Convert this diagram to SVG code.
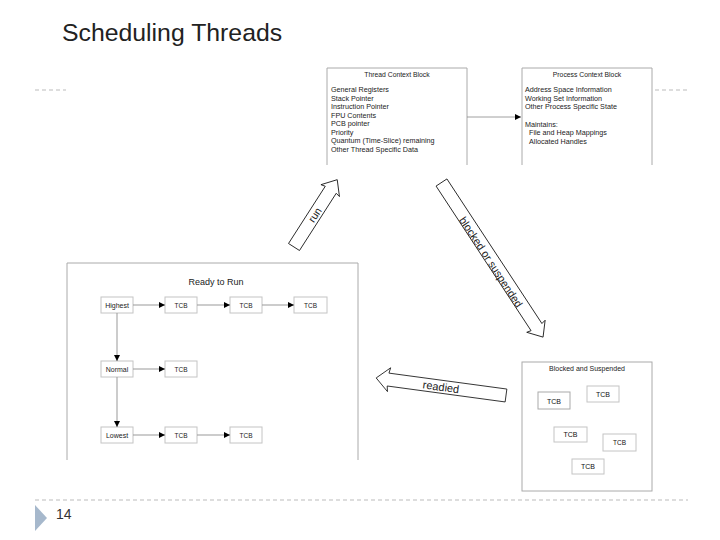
<svg xmlns="http://www.w3.org/2000/svg" width="720" height="540" viewBox="0 0 720 540">
<defs>
<style>
text{font-family:"Liberation Sans",Arial,sans-serif;fill:#222}
.frame{fill:none;stroke:#aaa;stroke-width:1}
.sb{fill:#fff;stroke:#c4c4c4;stroke-width:1}
.sm{font-size:7.2px}
.tcb{font-size:6.5px;text-anchor:middle}
.btcb{font-size:7px;text-anchor:middle;fill:#111}
.ln{stroke:#999;stroke-width:1;fill:none}
.blk{fill:#fff;stroke:#111;stroke-width:0.8}
.dash{stroke:#bbb;stroke-width:1;stroke-dasharray:4 3}
</style>
<marker id="ah" viewBox="0 0 10 10" refX="10" refY="5" markerWidth="6" markerHeight="6" markerUnits="userSpaceOnUse" orient="auto">
<path d="M0,0 L10,5 L0,10 Z" fill="#000"/>
</marker>
</defs>
<rect width="720" height="540" fill="#fff"/>
<text x="62" y="41" style="font-size:24.8px;fill:#222">Scheduling Threads</text>
<line class="dash" x1="35" y1="90" x2="66" y2="90"/>
<line class="dash" x1="655" y1="90" x2="688" y2="90"/>
<line class="dash" x1="35" y1="500" x2="688" y2="500"/>
<path d="M35,505 L47,518 L35,531 Z" fill="#a6b8cc"/>
<text x="56" y="519" style="font-size:14px;fill:#333">14</text>

<g id="thread-context-block">
<path class="frame" d="M327,165 V68 H467 V165"/>
<text x="397" y="77" class="sm" style="text-anchor:middle;font-size:6.8px">Thread Context Block</text>
<text x="331" y="92" class="sm">General Registers</text>
<text x="331" y="100.5" class="sm">Stack Pointer</text>
<text x="331" y="109" class="sm">Instruction Pointer</text>
<text x="331" y="117.5" class="sm">FPU Contents</text>
<text x="331" y="126" class="sm">PCB pointer</text>
<text x="331" y="134.5" class="sm">Priority</text>
<text x="331" y="143" class="sm">Quantum (Time-Slice) remaining</text>
<text x="331" y="151.5" class="sm">Other Thread Specific Data</text>
</g>

<g id="process-context-block">
<path class="frame" d="M522,165 V68 H652 V165"/>
<text x="587" y="77" class="sm" style="text-anchor:middle;font-size:6.8px">Process Context Block</text>
<text x="525" y="92" class="sm">Address Space Information</text>
<text x="525" y="100.5" class="sm">Working Set Information</text>
<text x="525" y="109" class="sm">Other Process Specific State</text>
<text x="525" y="126.5" class="sm">Maintains:</text>
<text x="529" y="135" class="sm">File and Heap Mappings</text>
<text x="529" y="143.5" class="sm">Allocated Handles</text>
</g>

<g id="ready-to-run">
<path class="frame" d="M67,460 V263 H358 V460"/>
<text x="216" y="285" style="font-size:9px;text-anchor:middle">Ready to Run</text>
<g id="highest"><rect class="sb" x="101" y="297" width="32" height="16"/><text x="117" y="307.5" class="tcb" style="font-size:7px">Highest</text></g>
<g id="h-tcb1"><rect class="sb" x="165" y="297" width="32" height="16"/><text x="181" y="307.5" class="tcb">TCB</text></g>
<g id="h-tcb2"><rect class="sb" x="230" y="297" width="32" height="16"/><text x="246" y="307.5" class="tcb">TCB</text></g>
<g id="h-tcb3"><rect class="sb" x="294" y="297" width="33" height="16"/><text x="310.5" y="307.5" class="tcb">TCB</text></g>
<g id="normal"><rect class="sb" x="101" y="361" width="32" height="16"/><text x="117" y="371.5" class="tcb" style="font-size:7px">Normal</text></g>
<g id="n-tcb1"><rect class="sb" x="165" y="361" width="32" height="16"/><text x="181" y="371.5" class="tcb">TCB</text></g>
<g id="lowest"><rect class="sb" x="101" y="427" width="32" height="16"/><text x="117" y="437.5" class="tcb" style="font-size:7px">Lowest</text></g>
<g id="l-tcb1"><rect class="sb" x="165" y="427" width="32" height="16"/><text x="181" y="437.5" class="tcb">TCB</text></g>
<g id="l-tcb2"><rect class="sb" x="230" y="427" width="32" height="16"/><text x="246" y="437.5" class="tcb">TCB</text></g>
</g>

<g id="blocked-and-suspended">
<rect class="frame" x="522" y="362" width="130" height="129"/>
<text x="587" y="371" class="sm" style="text-anchor:middle;font-size:7px">Blocked and Suspended</text>
<g id="b-tcb1"><rect class="sb" x="538" y="392" width="32" height="17" style="stroke:#aaa"/><text x="554" y="403.5" class="btcb">TCB</text></g>
<g id="b-tcb2"><rect class="sb" x="587" y="386" width="32" height="16"/><text x="603" y="396.5" class="btcb">TCB</text></g>
<g id="b-tcb3"><rect class="sb" x="554" y="427" width="33" height="15"/><text x="570.5" y="437" class="btcb">TCB</text></g>
<g id="b-tcb4"><rect class="sb" x="603" y="434" width="33" height="17"/><text x="619.5" y="445" class="btcb" style="font-size:6.5px">TCB</text></g>
<g id="b-tcb5"><rect class="sb" x="572" y="459" width="32" height="15"/><text x="588" y="469" class="btcb">TCB</text></g>
</g>

<g id="connectors">
<line x1="467" y1="117" x2="521" y2="117" stroke="#888" stroke-width="0.8" marker-end="url(#ah)"/>
<line class="ln" x1="133" y1="305" x2="165" y2="305" marker-end="url(#ah)"/>
<line class="ln" x1="197" y1="305" x2="230" y2="305" marker-end="url(#ah)"/>
<line class="ln" x1="262" y1="305" x2="294" y2="305" marker-end="url(#ah)"/>
<line class="ln" x1="117" y1="313" x2="117" y2="361" marker-end="url(#ah)"/>
<line class="ln" x1="133" y1="369" x2="165" y2="369" marker-end="url(#ah)"/>
<line class="ln" x1="117" y1="377" x2="117" y2="427" marker-end="url(#ah)"/>
<line class="ln" x1="133" y1="435" x2="165" y2="435" marker-end="url(#ah)"/>
<line class="ln" x1="197" y1="435" x2="230" y2="435" marker-end="url(#ah)"/>

<g id="run-arrow">
<path class="blk" transform="translate(294,247) rotate(-57.3)" d="M0,-6.5 L68,-6.5 L67,-11 L80,0 L67,11 L68,6.5 L0,6.5 Z"/>
<text transform="translate(315,215) rotate(-57.3)" style="font-size:10.5px;text-anchor:middle" dy="3.5">run</text>
</g>
<g id="blocked-arrow">
<path class="blk" transform="translate(441.5,182.5) rotate(56.7)" d="M0,-6.5 L173,-6.5 L172,-11 L185,0 L172,11 L173,6.5 L0,6.5 Z"/>
<text transform="translate(491,262) rotate(56.7)" style="font-size:10.8px;text-anchor:middle" dy="3.8">blocked or suspended</text>
</g>
<g id="readied-arrow">
<path class="blk" transform="translate(506,395.5) rotate(187.7)" d="M0,-6.5 L119,-6.5 L118,-12 L131,0 L118,12 L119,6.5 L0,6.5 Z"/>
<text transform="translate(441,387) rotate(7.7)" style="font-size:11px;text-anchor:middle" dy="3.8">readied</text>
</g>
</g>
</svg>
